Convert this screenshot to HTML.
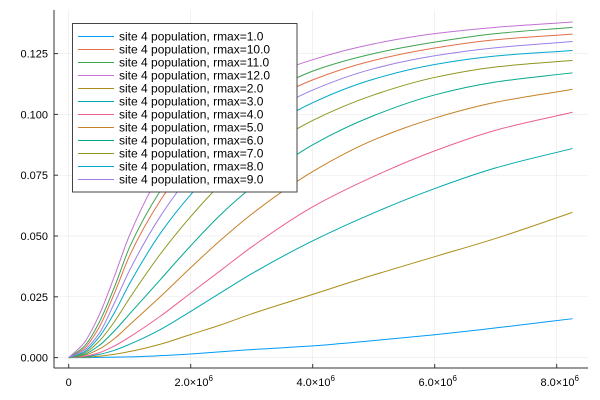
<!DOCTYPE html>
<html><head><meta charset="utf-8"><style>
html,body{margin:0;padding:0;background:#fff;}
svg{display:block;font-family:"Liberation Sans","DejaVu Sans",sans-serif;}
</style></head><body>
<svg id="chart" width="600" height="400" viewBox="0 0 600 400" xmlns="http://www.w3.org/2000/svg">
<g id="grid"></g>
<g id="series"></g>
<g id="axes"></g>
<g id="legend"></g>
</svg>
<script>
const xs = [0, 0.25, 0.5, 0.75, 1, 1.5, 2, 2.5, 3, 4, 5, 6, 7, 8.26]; // ×1e6
const seriesNames = ["site 4 population, rmax=1.0","site 4 population, rmax=10.0","site 4 population, rmax=11.0","site 4 population, rmax=12.0","site 4 population, rmax=2.0","site 4 population, rmax=3.0","site 4 population, rmax=4.0","site 4 population, rmax=5.0","site 4 population, rmax=6.0","site 4 population, rmax=7.0","site 4 population, rmax=8.0","site 4 population, rmax=9.0"];
const r1  = [0,0,.0001,.0002,.0003,.0008,.0015,.0024,.0033,.0048,.007,.0094,.0122,.016];
const r10 = [0,.0037,.0125,.0265,.042,.0645,.0815,.0935,.1015,.1142,.1222,.1273,.1307,.133];
const r11 = [0,.0045,.0145,.029,.0455,.0685,.0855,.097,.105,.1178,.1250,.1297,.1332,.1358];
const r12 = [0,.006,.0175,.0335,.0505,.0755,.0915,.1035,.1125,.1225,.129,.1332,.1358,.138];
const r2  = [0,.0001,.0006,.0014,.0025,.0055,.0095,.0135,.018,.026,.034,.0415,.049,.0597];
const r3  = [0,.0003,.0013,.003,.0055,.0115,.019,.0268,.0345,.048,.0595,.0695,.078,.086];
const r4  = [0,.0005,.002,.0048,.0085,.017,.0265,.036,.0455,.062,.0745,.085,.0935,.1009];
const r5  = [0,.0009,.0035,.0078,.0135,.025,.037,.0485,.059,.0765,.0895,.0985,.1050,.1103];
const r6  = [0,.0013,.005,.011,.018,.032,.046,.059,.070,.0875,.0995,.1080,.1133,.1171];
const r7  = [0,.0018,.0068,.0148,.0245,.0425,.058,.0715,.082,.0975,.108,.1152,.1195,.1222];
const r8  = [0,.0023,.0085,.0185,.0305,.051,.067,.080,.090,.1048,.1145,.1205,.1240,.1263];
const r9  = [0,.003,.010,.0225,.036,.058,.075,.0875,.0965,.1100,.1188,.1241,.1274,.130];
const seriesValues = [r1,r10,r11,r12,r2,r3,r4,r5,r6,r7,r8,r9];
const colors = ["#009af9","#e26f46","#3ea44e","#c271d2","#ac8e18","#00a9ad","#ed5e93","#c68125","#00a98d","#8e971e","#00a8cb","#9b7fe9"];
const yTicks = [0,0.025,0.05,0.075,0.1,0.125];
const yTickLabels = ["0.000","0.025","0.050","0.075","0.100","0.125"];
const xTicks = [0,2,4,6,8];
const xTickLabels = ["0","2.0","4.0","6.0","8.0"];

const NS="http://www.w3.org/2000/svg";
const L=54,R=588,T=10,B=368;
function sx(v){return 68.7+v*61;}
function sy(v){return 357.6-v*2432;}
function mk(tag,attrs,parent){const e=document.createElementNS(NS,tag);for(const k in attrs)e.setAttribute(k,attrs[k]);parent.appendChild(e);return e;}
const grid=document.getElementById('grid'),ser=document.getElementById('series'),ax=document.getElementById('axes'),leg=document.getElementById('legend');

yTicks.forEach((t,i)=>{
  const g=mk('line',{x1:L,x2:R,y1:sy(t),y2:sy(t),stroke:'#000','stroke-opacity':0.1,'stroke-width':0.5},grid);
  
  
  const tk=mk('line',{x1:L,x2:L+4,y1:sy(t),y2:sy(t),stroke:'#333','stroke-width':1},ax);
  
  
  const tx=mk('text',{x:L-6,y:sy(t)+4,'text-anchor':'end','font-size':11,fill:'#000'},ax);
  tx.textContent=yTickLabels[i];
  
  
});
xTicks.forEach((t,i)=>{
  const g=mk('line',{x1:sx(t),x2:sx(t),y1:T,y2:B,stroke:'#000','stroke-opacity':0.1,'stroke-width':0.5},grid);
  
  
  const tk=mk('line',{x1:sx(t),x2:sx(t),y1:B,y2:B-4,stroke:'#333','stroke-width':1},ax);
  
  
  const tx=mk('text',{x:sx(t),y:386,'text-anchor':'middle','font-size':11,fill:'#000'},ax);
  
  
  if(t===0){tx.textContent=xTickLabels[i];}
  else{
    tx.setAttribute('x',sx(t)+3);
    tx.textContent=xTickLabels[i]+'×10';
    const sp=mk('tspan',{'font-size':8,dy:-5},tx);sp.textContent='6';
  }
});
const la=mk('line',{x1:L,x2:L,y1:T,y2:B,stroke:'#333','stroke-width':1},ax);


const ba=mk('line',{x1:L,x2:R,y1:B,y2:B,stroke:'#333','stroke-width':1},ax);



// monotone cubic (Fritsch–Carlson) path through data points
function pathFor(vals){
  const n=xs.length, X=xs.map(sx), Y=vals.map(sy);
  const h=[],dl=[];
  for(let i=0;i<n-1;i++){h.push(X[i+1]-X[i]);dl.push((Y[i+1]-Y[i])/h[i]);}
  const m=new Array(n);
  m[0]=dl[0];m[n-1]=dl[n-2];
  for(let i=1;i<n-1;i++){
    if(dl[i-1]*dl[i]<=0)m[i]=0;
    else{const w1=2*h[i]+h[i-1],w2=h[i]+2*h[i-1];m[i]=(w1+w2)/(w1/dl[i-1]+w2/dl[i]);}
  }
  let d='M'+X[0].toFixed(2)+','+Y[0].toFixed(2);
  for(let i=0;i<n-1;i++){
    const c1x=X[i]+h[i]/3,c1y=Y[i]+m[i]*h[i]/3,c2x=X[i+1]-h[i]/3,c2y=Y[i+1]-m[i+1]*h[i]/3;
    d+=' C'+c1x.toFixed(2)+','+c1y.toFixed(2)+' '+c2x.toFixed(2)+','+c2y.toFixed(2)+' '+X[i+1].toFixed(2)+','+Y[i+1].toFixed(2);
  }
  return d;
}
seriesValues.forEach((vals,i)=>{
  const pth=mk('path',{d:pathFor(vals),fill:'none',stroke:colors[i],'stroke-width':1},ser);
  
  
});

const box=mk('rect',{x:72.5,y:23.5,width:224.5,height:168.5,fill:'#fff',stroke:'#444','stroke-width':1},leg);


seriesNames.forEach((n,i)=>{
  const y=36.5+i*13;
  const ln=mk('line',{x1:78,x2:114,y1:y,y2:y,stroke:colors[i],'stroke-width':1},leg);
  
  
  const tx=mk('text',{x:119,y:y+4,'font-size':12,fill:'#000'},leg);
  tx.textContent=n;
  
  
});
</script>
</body></html>
